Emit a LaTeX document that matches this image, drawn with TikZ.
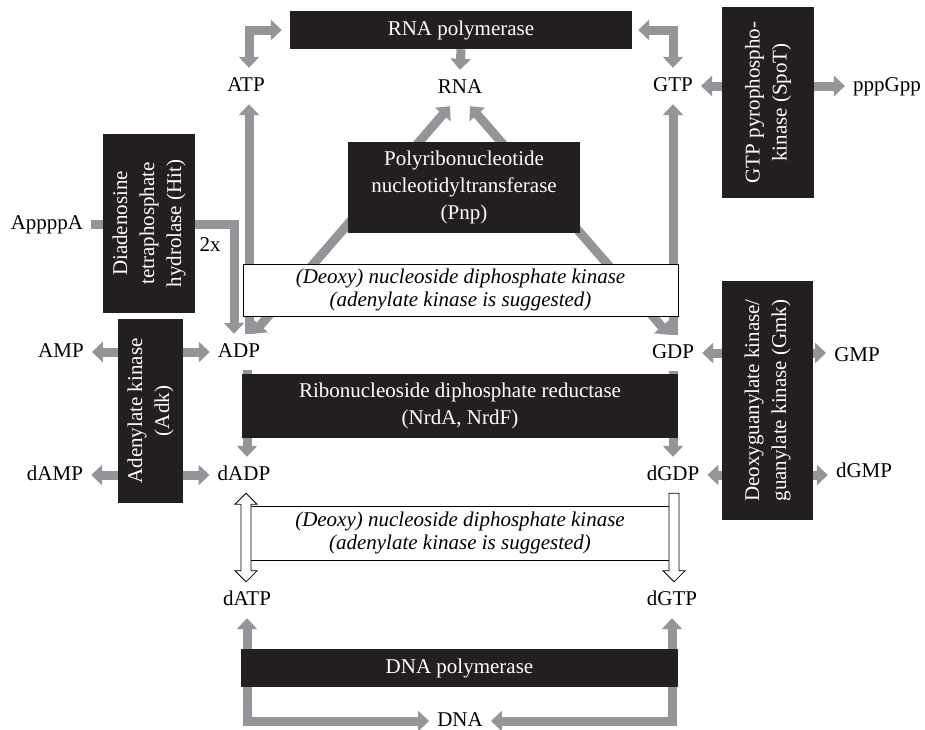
\documentclass[tikz,border=0pt]{standalone}
\usepackage{fontspec}
\setmainfont{Liberation Serif}
\usetikzlibrary{arrows.meta,calc,backgrounds}
\definecolor{boxblack}{RGB}{35,31,32}
\definecolor{arrowgray}{RGB}{147,149,152}

\begin{document}
\begin{tikzpicture}[x=1pt, y=-1pt, >={Triangle[width=20pt,length=11pt]},
    font=\fontsize{21}{27}\selectfont,
    flow/.style={draw=arrowgray, line width=9pt},
    metab/.style={inner xsep=8pt, inner ysep=0pt, text height=14pt, text depth=4pt, minimum height=36pt},
    enzyme/.style={fill=boxblack, text=white, inner sep=0pt, align=center},
    ndk/.style={draw=black, fill=white, line width=0.8pt, inner sep=0pt, align=center, font=\fontsize{21}{23.5}\selectfont\itshape},
    hollow/.style={draw=black, fill=white, line width=0.8pt, line join=miter}]
        \useasboundingbox (0,0) rectangle (925,729);
        % metabolites
        \node[metab] (atp) at (246,86) {ATP};
        \node[metab] (rna) at (460,88) {RNA};
        \node[metab] (gtp) at (673,86) {GTP};
        \node[metab] (ppgpp) at (887,86) {pppGpp};
        \node[metab] (apppa) at (47,224) {AppppA};
        \node (twox) at (210,245) {2x};
        \node[metab] (adp) at (239,352) {ADP};
        \node[metab] (amp) at (61,352) {AMP};
        \node[metab] (gdp) at (673,353) {GDP};
        \node[metab] (gmp) at (857,356) {GMP};
        \node[metab] (dadp) at (244,475) {dADP};
        \node[metab] (damp) at (55,475) {dAMP};
        \node[metab] (dgdp) at (673,475) {dGDP};
        \node[metab] (dgmp) at (864,472) {dGMP};
        \node[metab] (datp) at (247,600) {dATP};
        \node[metab] (dgtp) at (672,600) {dGTP};
        \node[metab] (dna) at (460,721) {DNA};
        % enzymes
        \node[enzyme, minimum width=342pt, minimum height=38pt] (rnap) at (461,30) {RNA polymerase};
        \node[enzyme, minimum width=232pt, minimum height=91pt] (pnp) at (464,187.5) {Polyribonucleotide\\nucleotidyltransferase\\(Pnp)};
        \node[ndk, minimum width=435pt, minimum height=52pt] (ndkup) at (460.5,290) {(Deoxy) nucleoside diphosphate kinase\\(adenylate kinase is suggested)};
        \node[enzyme, minimum width=436pt, minimum height=64pt] (rnr) at (460,406) {Ribonucleoside diphosphate reductase\\(NrdA, NrdF)};
        \node[ndk, minimum width=420pt, minimum height=54pt] (ndklow) at (460,533) {(Deoxy) nucleoside diphosphate kinase\\(adenylate kinase is suggested)};
        \node[enzyme, minimum width=437pt, minimum height=38pt] (dnap) at (459.5,668) {DNA polymerase};
        \node[enzyme, rotate=90, minimum width=179pt, minimum height=92pt] (hit) at (149,223.5) {Diadenosine\\tetraphosphate\\hydrolase (Hit)};
        \node[enzyme, rotate=90, minimum width=184pt, minimum height=65pt] (adk) at (150.5,411) {Adenylate kinase\\(Adk)};
        \node[enzyme, rotate=90, minimum width=239pt, minimum height=91pt] (gmk) at (767.5,400.5) {Deoxyguanylate kinase/\\guanylate kinase (Gmk)};
        \node[enzyme, rotate=90, minimum width=191pt, minimum height=92pt] (spot) at (768,102.5) {GTP pyrophospho-\\kinase (SpoT)};
        % gray arrows behind the boxes
        \begin{pgfonlayer}{background}
        \fill[white] (0,0) rectangle (925,729);
        \draw[flow,<->,shorten >=8pt] ([xshift=3pt]atp.north) |- (rnap.west);
        \draw[flow,<->,shorten >=6pt] (gtp.north) |- (rnap.east);
        \draw[flow,->] (rnap.south) -- (rna.north);
        \draw[flow,->] ([xshift=10pt]adp.north) -- ([xshift=3pt]atp.south);
        \draw[flow,->] (gdp.north) -- (gtp.south);
        \draw[flow,<->] ([xshift=14pt]adp.north) -- ([xshift=-10pt]rna.south);
        \draw[flow,<->] ([xshift=10pt]rna.south) -- ([xshift=-4pt]gdp.north);
        \draw[flow,->] (apppa.east) -| ([xshift=-5pt]adp.north);
        \draw[flow,<->] (amp.east) -- (adp.west);
        \draw[flow,<->] (damp.east) -- (dadp.west);
        \draw[flow,<->] (gdp.east) -- (gdp.east -| gmp.west);
        \draw[flow,<->] (dgdp.east) -- (dgdp.east -| dgmp.west);
        \draw[flow,<->] (gtp.east) -- (ppgpp.west);
        \draw[flow,->] ([xshift=8pt]adp.south) -- ([xshift=3pt]dadp.north);
        \draw[flow,->] (gdp.south) -- (dgdp.north);
        \draw[flow,<->] (datp.south) |- (dna.west);
        \draw[flow,<->] (dgtp.south) |- (dna.east);
        \end{pgfonlayer}
        % hollow arrows
        \draw[hollow] let \p1=([xshift=2pt]dadp.south), \p2=(datp.north) in
            (\x1,\y1) -- (\x1+11pt,\y1-11pt) -- (\x1+5pt,\y1-11pt) -- (\x1+5pt,\y2+11pt)
            -- (\x1+11pt,\y2+11pt) -- (\x1,\y2) -- (\x1-11pt,\y2+11pt) -- (\x1-5pt,\y2+11pt)
            -- (\x1-5pt,\y1-11pt) -- (\x1-11pt,\y1-11pt) -- cycle;
        \draw[hollow] let \p1=([xshift=1pt]dgdp.south), \p2=(dgtp.north) in
            (\x1-5pt,\y1) -- (\x1+5pt,\y1) -- (\x1+5pt,\y2+11pt) -- (\x1+11pt,\y2+11pt)
            -- (\x1,\y2) -- (\x1-11pt,\y2+11pt) -- (\x1-5pt,\y2+11pt) -- cycle;
    \end{tikzpicture}
\end{document}
